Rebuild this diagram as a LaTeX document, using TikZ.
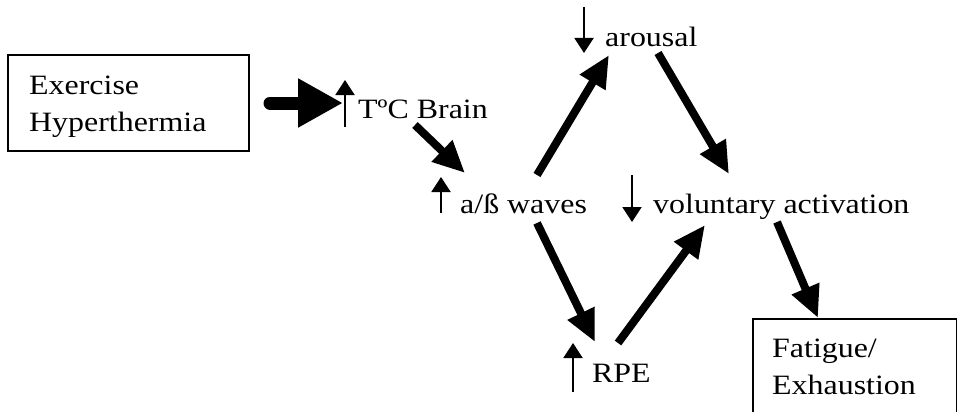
\documentclass[tikz,border=0pt]{standalone}
\usepackage{fontspec}
\setmainfont{Liberation Serif}[FakeStretch=1.14]
\usetikzlibrary{arrows.meta}
\begin{document}
\begin{tikzpicture}[x=1pt,y=-1pt,
  lbl/.style={anchor=base west,inner sep=0pt,font=\fontsize{28}{37}\selectfont},
  bigarrow/.style={line width=8pt,-{Triangle[length=32pt,width=28pt]}},
  hugearrow/.style={line width=13pt,line cap=round,-{Triangle[length=45pt,width=46pt]}},
  tick/.style={line width=2pt,-{Triangle[length=15pt,width=19pt]}},
  boxline/.style={line width=1.5pt}]
\useasboundingbox (0,0) rectangle (958,412);
% boxes
\draw[boxline] (8,55) rectangle (249,151);
\node[lbl] (ex1) at (29,94) {Exercise};
\node[lbl] (ex2) at (29,131) {Hyperthermia};
\begin{scope}
\clip (0,0) rectangle (958,412);
\draw[boxline] (753,319) rectangle (956.5,440);
\end{scope}
\node[lbl] (fa1) at (772,357) {Fatigue/};
\node[lbl] (fa2) at (772,394) {Exhaustion};
% labels
\node[lbl] (tb) at (358,118) {TºC Brain};
\node[lbl] (ab) at (460,213) {a/ß waves};
\node[lbl] (ar) at (605,47) {arousal};
\node[lbl] (va) at (653,213) {voluntary activation};
\node[lbl] (rpe) at (592,382) {RPE};
% small indicator arrows
\coordinate (t1a) at (345,127); \coordinate (t1b) at (345,80);
\coordinate (t2a) at (441,213); \coordinate (t2b) at (441,177);
\coordinate (t3a) at (584,7);   \coordinate (t3b) at (584,53);
\coordinate (t4a) at (632,175); \coordinate (t4b) at (632,222);
\coordinate (t5a) at (573,392); \coordinate (t5b) at (573,343);
\draw[tick] (t1a) -- (t1b);
\draw[tick] (t2a) -- (t2b);
\draw[tick] (t3a) -- (t3b);
\draw[tick] (t4a) -- (t4b);
\draw[tick] (t5a) -- (t5b);
% connectors
\coordinate (h1) at (270,103); \coordinate (h2) at (343,103);
\draw[hugearrow] (h1) -- (h2);
\coordinate (c1a) at (415,125); \coordinate (c1b) at (465,173);
\draw[bigarrow] (c1a) -- (c1b);
\coordinate (c2a) at (537,175); \coordinate (c2b) at (609,55);
\draw[bigarrow] (c2a) -- (c2b);
\coordinate (c3a) at (658,53); \coordinate (c3b) at (729,174);
\draw[bigarrow] (c3a) -- (c3b);
\coordinate (c4a) at (537,223); \coordinate (c4b) at (595,342);
\draw[bigarrow] (c4a) -- (c4b);
\coordinate (c5a) at (618,343); \coordinate (c5b) at (705,225);
\draw[bigarrow] (c5a) -- (c5b);
\coordinate (c6a) at (777,222); \coordinate (c6b) at (818,318);
\draw[bigarrow] (c6a) -- (c6b);
\end{tikzpicture}
\end{document}
